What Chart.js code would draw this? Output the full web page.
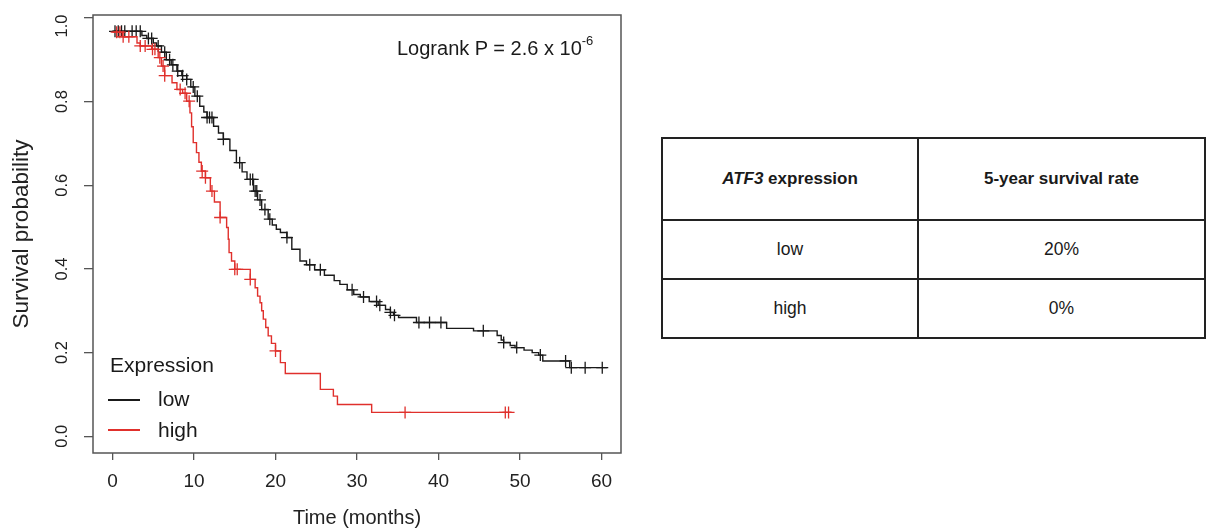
<!DOCTYPE html>
<html>
<head>
<meta charset="utf-8">
<script src="https://cdn.jsdelivr.net/npm/chart.js@4.4.0/dist/chart.umd.min.js"></script>
<style>
  body { margin: 0; background: #fff; font-family: Arial, "Liberation Sans", sans-serif; color: #1a1a1a; }
  #wrap { position: relative; width: 1206px; height: 530px; overflow: hidden; }
  #km { position: absolute; left: 0; top: 0; }
  .txt { position: absolute; white-space: nowrap; line-height: 1; }
  .key { position: absolute; height: 0; width: 32px; border-top: 2px solid; }
  sup { font-size: 13px; position: relative; top: -2px; }
  table { position: absolute; left: 661px; top: 137px; width: 545px; border-collapse: collapse; font-size: 17.5px; }
  td, th { border: 2px solid #222; text-align: center; padding: 0; }
  th { height: 80px; font-weight: bold; font-size: 17px; }
  td { height: 57px; }
</style>
</head>
<body>
<div id="wrap">
  <canvas id="km" width="640" height="530"></canvas>
  <div class="txt" style="left:397px;top:36px;font-size:20px;">Logrank P = 2.6 x 10<sup>-6</sup></div>
  <div class="txt" style="left:110px;top:354px;font-size:21px;">Expression</div>
  <div class="key" style="left:108px;top:399px;border-color:#1a1a1a;"></div>
  <div class="txt" style="left:158px;top:388px;font-size:21px;">low</div>
  <div class="key" style="left:108px;top:429px;border-color:#e0302c;"></div>
  <div class="txt" style="left:158px;top:419px;font-size:21px;">high</div>
  <table>
    <tr><th style="width:254px;"><i>ATF3</i> expression</th><th>5-year survival rate</th></tr>
    <tr><td>low</td><td>20%</td></tr>
    <tr><td>high</td><td>0%</td></tr>
  </table>
</div>
<script>
// Kaplan-Meier steps: time (months) and survival after the drop
const lowTimes = [0, 3.6, 4.2, 5.0, 5.4, 6.0, 6.6, 7.2, 7.9, 8.5, 9.1, 9.6, 10.1, 10.7, 11.2, 11.6, 12.4, 13.0, 13.6, 14.4,
  15.2, 15.9, 16.5, 17.3, 17.8, 18.3, 19.1, 19.6, 20.1, 20.6, 21.4, 22.0, 23.0, 23.8, 24.8, 26.0, 27.2, 27.9, 28.8, 29.6,
  30.4, 31.5, 32.6, 33.5, 34.1, 34.5, 35.1, 37.3, 41.0, 44.3, 47.2, 47.7, 48.0, 48.8, 49.4, 50.5, 51.5, 52.3, 52.8, 56.1, 60.7];
const lowSurv = [0.968, 0.958, 0.951, 0.940, 0.933, 0.918, 0.900, 0.888, 0.873, 0.862, 0.853, 0.835, 0.813, 0.789, 0.775, 0.762, 0.741, 0.725, 0.710, 0.683,
  0.654, 0.632, 0.614, 0.586, 0.565, 0.542, 0.519, 0.505, 0.495, 0.487, 0.475, 0.447, 0.419, 0.410, 0.398, 0.385, 0.372, 0.363, 0.350, 0.339,
  0.333, 0.322, 0.313, 0.303, 0.296, 0.289, 0.284, 0.272, 0.258, 0.252, 0.241, 0.230, 0.224, 0.217, 0.212, 0.206, 0.200, 0.194, 0.180, 0.164, 0.164];

const highTimes = [0, 1.2, 3.0, 3.4, 4.8, 5.6, 6.0, 6.4, 7.3, 7.9, 8.6, 9.1, 9.5, 9.7, 9.9, 10.3, 10.6, 10.9, 11.4, 12.0,
  12.5, 13.2, 14.0, 14.2, 14.3, 14.6, 15.0, 16.9, 17.5, 17.8, 18.1, 18.3, 18.5, 18.8, 19.1, 19.5, 20.0, 20.6, 21.2, 25.5,
  27.1, 27.6, 31.8, 49.0];
const highSurv = [0.966, 0.955, 0.940, 0.933, 0.925, 0.905, 0.885, 0.862, 0.845, 0.829, 0.820, 0.801, 0.773, 0.740, 0.702, 0.678, 0.655, 0.634, 0.618, 0.586,
  0.560, 0.523, 0.499, 0.471, 0.439, 0.419, 0.399, 0.375, 0.355, 0.335, 0.319, 0.300, 0.280, 0.260, 0.240, 0.222, 0.204, 0.176, 0.150, 0.112,
  0.096, 0.076, 0.057, 0.057];

// censored observations (+)
const lowCensT = [0.3, 0.7, 1.1, 1.5, 2.4, 2.9, 3.4, 4.4, 4.8, 5.6, 6.4, 7.0, 7.4, 8.0, 8.6, 9.1, 9.9, 10.4, 11.6, 11.9,
  12.2, 13.6, 15.6, 16.9, 17.2, 17.5, 17.7, 18.1, 18.7, 19.3, 21.4, 24.2, 25.5, 29.4, 30.8, 32.4, 32.8, 34.1, 34.6, 37.6,
  38.9, 40.3, 45.5, 48.0, 49.6, 52.5, 55.6, 56.3, 58.0, 60.1];
const lowCensS = [0.968, 0.968, 0.968, 0.968, 0.968, 0.968, 0.968, 0.951, 0.951, 0.933, 0.918, 0.900, 0.888, 0.873, 0.862, 0.853, 0.835, 0.813, 0.762, 0.762,
  0.762, 0.710, 0.654, 0.614, 0.614, 0.586, 0.586, 0.565, 0.542, 0.519, 0.475, 0.410, 0.398, 0.350, 0.333, 0.322, 0.313, 0.296, 0.289, 0.272,
  0.272, 0.272, 0.252, 0.224, 0.212, 0.194, 0.180, 0.164, 0.164, 0.164];
const highCensT = [0.5, 0.9, 1.3, 2.0, 3.4, 4.0, 4.9, 5.2, 5.8, 6.2, 6.4, 8.3, 8.9, 9.4, 11.0, 11.4, 12.2, 13.2, 15.0, 15.3,
  16.9, 20.0, 35.9, 48.2, 48.6];
const highCensS = [0.966, 0.966, 0.955, 0.955, 0.933, 0.933, 0.925, 0.925, 0.905, 0.885, 0.862, 0.829, 0.820, 0.801, 0.634, 0.618, 0.586, 0.523, 0.399, 0.399,
  0.375, 0.204, 0.057, 0.057, 0.057];

const xTicks = [0, 10, 20, 30, 40, 50, 60];
const yTicks = [0, 0.2, 0.4, 0.6, 0.8, 1.0];

const pts = (xs, ys) => xs.map((x, i) => ({ x: x, y: ys[i] }));
const BLACK = "#1a1a1a";
const RED = "#e0302c";

// box around the plot + vertical y labels like R
const rFrame = {
  id: "rFrame",
  afterDraw(chart) {
    const { ctx, chartArea: a } = chart;
    const y = chart.scales.y;
    ctx.save();
    ctx.strokeStyle = "#555";
    ctx.lineWidth = 1.5;
    ctx.strokeRect(a.left, a.top, a.right - a.left, a.bottom - a.top);
    ctx.fillStyle = "#222";
    ctx.font = "16.5px Arial";
    ctx.textAlign = "center";
    ctx.textBaseline = "middle";
    yTicks.forEach(v => {
      // top label is cut off in the original, keep it inside the canvas
      const py = Math.max(y.getPixelForValue(v), 26);
      ctx.save();
      ctx.translate(62, py);
      ctx.rotate(-Math.PI / 2);
      ctx.fillText(v.toFixed(1), 0, 0);
      ctx.restore();
    });
    ctx.restore();
  }
};

new Chart(document.getElementById("km"), {
  type: "line",
  data: {
    datasets: [
      { data: pts(highCensT, highCensS), showLine: false, pointStyle: "cross", pointRadius: 6,
        borderColor: RED, borderWidth: 1.3, order: 1 },
      { data: pts(highTimes, highSurv), stepped: "before", borderColor: RED, borderWidth: 1.4,
        pointRadius: 0, fill: false, order: 2 },
      { data: pts(lowCensT, lowCensS), showLine: false, pointStyle: "cross", pointRadius: 6,
        borderColor: BLACK, borderWidth: 1.3, order: 3 },
      { data: pts(lowTimes, lowSurv), stepped: "before", borderColor: BLACK, borderWidth: 1.4,
        pointRadius: 0, fill: false, order: 4 },
    ],
  },
  options: {
    responsive: false,
    animation: false,
    devicePixelRatio: 1,
    layout: { padding: { top: 15, right: 19, left: 0, bottom: 0 } },
    plugins: { legend: { display: false }, tooltip: { enabled: false } },
    scales: {
      x: {
        type: "linear",
        min: -2.4,
        max: 62.4,
        afterBuildTicks: s => { s.ticks = xTicks.map(v => ({ value: v })); },
        afterFit: s => { s.height = 77; },
        grid: { drawOnChartArea: false, tickLength: 7, color: "#555", lineWidth: 1.3 },
        border: { display: false },
        ticks: { color: "#222", font: { size: 19, family: "Arial" }, padding: 10, maxRotation: 0 },
        title: { display: true, text: "Time (months)", color: "#222", font: { size: 20, family: "Arial" }, padding: 0 },
      },
      y: {
        min: -0.04,
        max: 1.007,
        afterBuildTicks: s => { s.ticks = yTicks.map(v => ({ value: v })); },
        afterFit: s => { s.width = 93; },
        grid: { drawOnChartArea: false, tickLength: 9, color: "#555", lineWidth: 1.3 },
        border: { display: false },
        ticks: { display: false },
        title: { display: true, text: "Survival probability", color: "#222", font: { size: 22.5, family: "Arial" }, padding: { top: 8, bottom: 0 } },
      },
    },
  },
  plugins: [rFrame],
});
</script>
</body>
</html>
